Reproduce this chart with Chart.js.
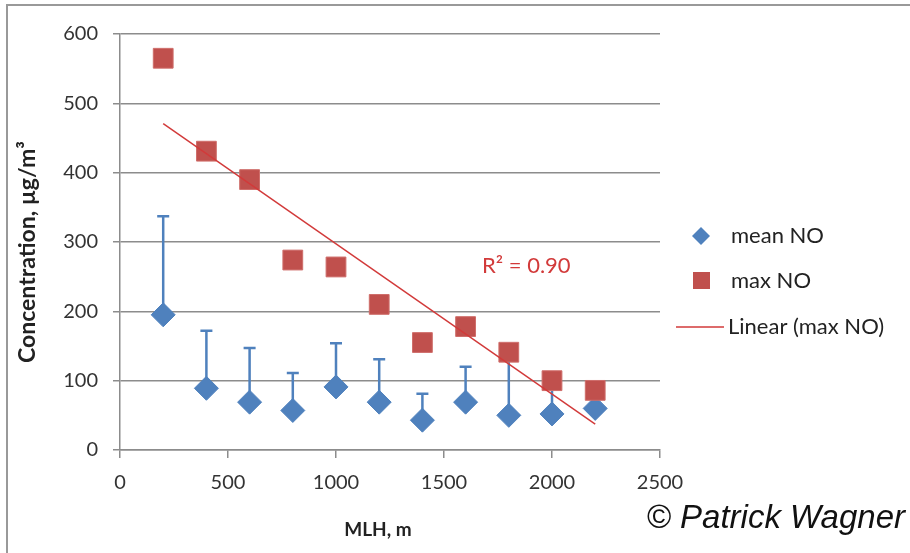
<!DOCTYPE html>
<html>
<head>
<meta charset="utf-8">
<script src="https://cdn.jsdelivr.net/npm/chart.js@4.4.1/dist/chart.umd.min.js"></script>
<style>
  html, body { margin: 0; padding: 0; background: #fff; }
</style>
</head>
<body>
<canvas id="chart" width="910" height="553"></canvas>
<script>
// datos
const mlh = [200, 400, 600, 800, 1000, 1200, 1400, 1600, 1800, 2000, 2200];
const meanNO = [195, 89, 69, 57, 91, 69, 43, 69, 50, 52, 60];
const meanNOUpper = [337, 172, 147, 111, 154, 131, 81, 120, 135, 90, 75];
const maxNO = [565, 431, 390, 274, 264, 210, 155, 178, 141, 100, 86];
const xTicks = [0, 500, 1000, 1500, 2000, 2500];
const yTicks = [0, 100, 200, 300, 400, 500, 600];

const blue = "#4F81BD";
const red = "#C0504D";
const trendRed = "#D23A3A";
const gridGrey = "#8C8C8C";

// recta de minimos cuadrados (como la linea de tendencia de Excel)
const n = mlh.length;
const mx = mlh.reduce((a, b) => a + b, 0) / n;
const my = maxNO.reduce((a, b) => a + b, 0) / n;
let sxy = 0, sxx = 0;
mlh.forEach((x, i) => { sxy += (x - mx) * (maxNO[i] - my); sxx += (x - mx) * (x - mx); });
const slope = sxy / sxx;
const fit = (x) => my + slope * (x - mx);

// barras de error superiores
const errorBars = {
  id: "errorBars",
  beforeDatasetsDraw(chart) {
    const { ctx, scales: { x, y } } = chart;
    ctx.save();
    ctx.strokeStyle = blue;
    ctx.lineWidth = 2.5;
    mlh.forEach((v, i) => {
      const px = x.getPixelForValue(v);
      const p0 = y.getPixelForValue(meanNO[i]);
      const p1 = y.getPixelForValue(meanNOUpper[i]);
      ctx.beginPath();
      ctx.moveTo(px, p0);
      ctx.lineTo(px, p1);
      ctx.moveTo(px - 6, p1);
      ctx.lineTo(px + 6, p1);
      ctx.stroke();
    });
    ctx.restore();
  },
};

// leyenda, titulos, textos y marco
const extras = {
  id: "extras",
  beforeDraw(chart) {
    const { ctx } = chart;
    ctx.save();
    ctx.strokeStyle = "#999";
    ctx.lineWidth = 2;
    ctx.beginPath();
    ctx.moveTo(7, 560);
    ctx.lineTo(7, 5);
    ctx.lineTo(915, 5);
    ctx.stroke();
    ctx.restore();
  },
  afterDraw(chart) {
    const { ctx } = chart;
    ctx.save();
    ctx.textBaseline = "middle";

    // mean NO
    ctx.fillStyle = blue;
    ctx.beginPath();
    ctx.moveTo(701, 227); ctx.lineTo(710, 236); ctx.lineTo(701, 245); ctx.lineTo(692, 236);
    ctx.closePath();
    ctx.fill();
    // max NO
    ctx.fillStyle = red;
    ctx.fillRect(693, 272, 17, 17);
    // Linear
    ctx.strokeStyle = trendRed;
    ctx.lineWidth = 1.5;
    ctx.beginPath();
    ctx.moveTo(676, 327);
    ctx.lineTo(724, 327);
    ctx.stroke();

    ctx.font = "22px Lato";
    ctx.fillStyle = "#222";
    ctx.fillText("mean NO", 731, 236);
    ctx.fillText("max NO", 731, 281);
    ctx.fillText("Linear (max NO)", 728, 327);

    ctx.fillStyle = trendRed;
    ctx.font = "22px Lato";
    ctx.fillText("R² = 0.90", 482, 266);

    // titulos de ejes
    ctx.fillStyle = "#222";
    ctx.font = "bold 19px Lato";
    ctx.textAlign = "center";
    ctx.fillText("MLH, m", 378, 530);
    ctx.save();
    ctx.translate(28, 252);
    ctx.rotate(-Math.PI / 2);
    ctx.font = "bold 23px Lato";
    ctx.fillText("Concentration, µg/m³", 0, 0);
    ctx.restore();

    ctx.fillStyle = "#111";
    ctx.font = "italic 33px 'Liberation Sans'";
    ctx.textAlign = "right";
    ctx.fillText("© Patrick Wagner", 905, 519);
    ctx.restore();
  },
};

new Chart(document.getElementById("chart"), {
  type: "scatter",
  data: {
    datasets: [
      {
        label: "Linear (max NO)",
        type: "line",
        data: [{ x: mlh[0], y: fit(mlh[0]) }, { x: mlh[n - 1], y: fit(mlh[n - 1]) }],
        borderColor: trendRed,
        borderWidth: 1.5,
        pointRadius: 0,
        fill: false,
        order: 0,
      },
      {
        label: "max NO",
        data: mlh.map((x, i) => ({ x, y: maxNO[i] })),
        pointStyle: "rect",
        pointRadius: 14,
        pointHoverRadius: 14,
        backgroundColor: red,
        borderColor: "#CF6E6B",
        borderWidth: 1,
        order: 1,
      },
      {
        label: "mean NO",
        data: mlh.map((x, i) => ({ x, y: meanNO[i] })),
        pointStyle: "rectRot",
        pointRadius: 12,
        pointHoverRadius: 12,
        backgroundColor: blue,
        borderColor: blue,
        borderWidth: 1,
        order: 2,
      },
    ],
  },
  options: {
    responsive: false,
    animation: false,
    layout: { padding: { left: 8, top: 34, right: 250, bottom: 0 } },
    plugins: {
      legend: { display: false },
      tooltip: { enabled: false },
    },
    scales: {
      x: {
        type: "linear",
        min: 0,
        max: 2500,
        afterBuildTicks: (s) => { s.ticks = xTicks.map((v) => ({ value: v })); },
        afterFit: (s) => { s.height = 553 - 450; },
        grid: { drawOnChartArea: false, drawTicks: true, tickLength: 8, color: gridGrey, lineWidth: 1.5 },
        border: { color: gridGrey, width: 1.5 },
        ticks: { color: "#333", font: { family: "Lato", size: 20 }, padding: 13, callback: (v) => String(v) },
      },
      y: {
        min: 0,
        max: 600,
        afterBuildTicks: (s) => { s.ticks = yTicks.map((v) => ({ value: v })); },
        afterFit: (s) => { s.width = 120 - 8; },
        grid: { color: gridGrey, lineWidth: 1.5, tickLength: 7 },
        border: { color: gridGrey, width: 1.5 },
        ticks: { color: "#333", font: { family: "Lato", size: 20 }, padding: 15, callback: (v) => String(v) },
      },
    },
  },
  plugins: [errorBars, extras],
});
</script>
</body>
</html>
